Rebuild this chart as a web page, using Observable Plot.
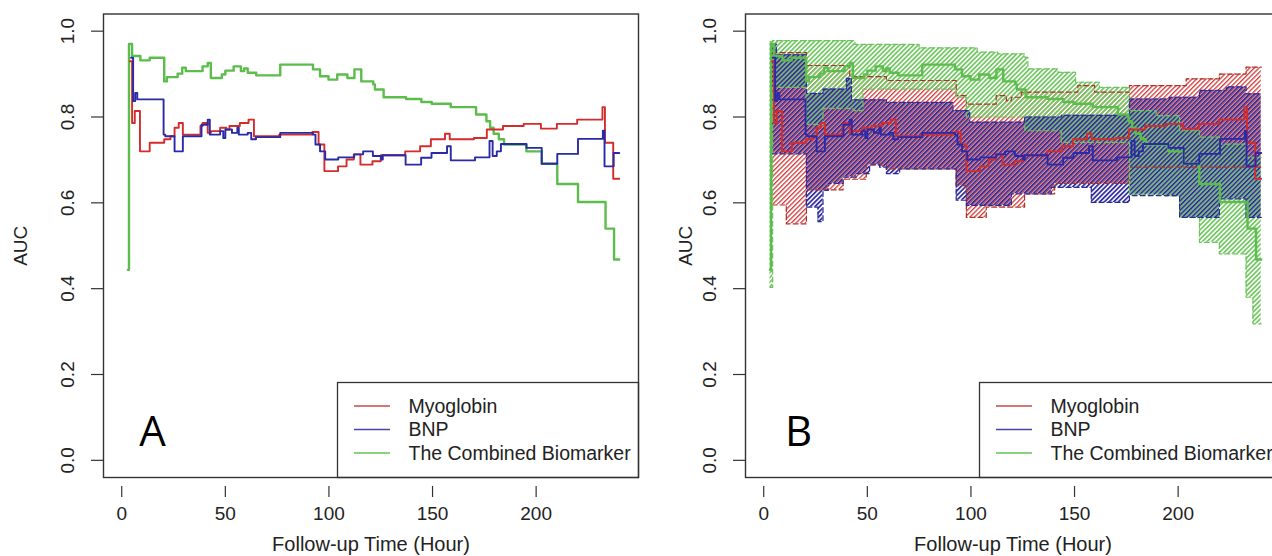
<!DOCTYPE html>
<html>
<head>
<meta charset="utf-8">
<script src="https://cdn.jsdelivr.net/npm/d3@7"></script>
<script src="https://cdn.jsdelivr.net/npm/@observablehq/plot@0.6"></script>
<style>
html, body { margin: 0; padding: 0; background: #fff; overflow: hidden; }
#wrap { position: relative; width: 1290px; height: 556px; }
#wrap svg { position: absolute; top: 0; max-width: none !important; background: transparent !important; }
</style>
</head>
<body>
<div id="wrap"></div>
<script>
// ---------- tick labels / categories ----------
const xTicks = [0, 50, 100, 150, 200];
const yTicks = [0, 0.2, 0.4, 0.6, 0.8, 1.0];
const seriesNames = ["Myoglobin", "BNP", "The Combined Biomarker"];
const xTitle = "Follow-up Time (Hour)";
const yTitle = "AUC";

// ---------- AUC curves (step functions) ----------
const myoHours = [4.0, 5.0, 6.3, 8.8, 13.5, 20.5, 23.5, 25.5, 27.5, 29.5, 38.0, 39.0, 41.5, 43.0, 47.5, 50.5, 52.0, 57.0, 61.2, 63.8, 76.0, 92.0, 95.0, 97.8, 104.4, 108.5, 112.0, 115.2, 121.0, 125.0, 136.8, 144.0, 149.2, 156.0, 158.3, 170.0, 176.2, 184.0, 194.0, 202.3, 210.0, 219.8, 232.0, 233.2, 237.2, 240.1];
const myoAUC   = [0.930, 0.786, 0.814, 0.720, 0.740, 0.748, 0.755, 0.775, 0.786, 0.759, 0.779, 0.786, 0.763, 0.767, 0.775, 0.771, 0.779, 0.786, 0.794, 0.755, 0.759, 0.765, 0.736, 0.674, 0.685, 0.701, 0.713, 0.689, 0.697, 0.711, 0.720, 0.732, 0.748, 0.761, 0.748, 0.751, 0.771, 0.779, 0.784, 0.773, 0.784, 0.794, 0.823, 0.740, 0.656, 0.656];

const bnpHours = [4.5, 5.5, 6.5, 7.5, 20.2, 21.0, 25.5, 29.5, 38.5, 41.5, 42.5, 47.5, 49.0, 50.0, 53.2, 55.8, 56.5, 60.8, 62.5, 64.8, 76.5, 92.3, 93.5, 95.7, 98.2, 104.5, 112.2, 116.5, 121.2, 125.2, 126.0, 137.0, 144.5, 149.5, 157.0, 158.8, 170.5, 177.5, 179.0, 181.0, 183.0, 195.3, 202.7, 210.2, 220.2, 232.2, 233.0, 237.4, 240.1];
const bnpAUC   = [0.938, 0.837, 0.856, 0.841, 0.759, 0.755, 0.720, 0.755, 0.782, 0.794, 0.759, 0.767, 0.751, 0.771, 0.763, 0.775, 0.759, 0.763, 0.748, 0.753, 0.763, 0.759, 0.736, 0.720, 0.701, 0.706, 0.713, 0.720, 0.709, 0.701, 0.711, 0.689, 0.705, 0.716, 0.732, 0.699, 0.706, 0.744, 0.709, 0.720, 0.737, 0.728, 0.691, 0.714, 0.749, 0.768, 0.685, 0.716, 0.716];

const combHours = [3.0, 3.5, 5.0, 9.0, 13.5, 20.5, 21.8, 27.0, 29.2, 30.9, 39.0, 41.5, 43.0, 48.3, 50.0, 54.0, 57.5, 59.1, 60.8, 64.9, 76.5, 92.3, 95.7, 99.8, 104.0, 108.9, 112.3, 115.6, 121.4, 122.2, 126.4, 137.2, 144.6, 149.6, 158.8, 171.0, 176.0, 177.8, 179.5, 182.0, 184.5, 195.3, 202.7, 210.2, 220.2, 233.5, 237.6, 240.1];
const combAUC   = [0.444, 0.970, 0.942, 0.932, 0.938, 0.883, 0.893, 0.901, 0.915, 0.907, 0.918, 0.926, 0.891, 0.899, 0.908, 0.918, 0.907, 0.913, 0.903, 0.897, 0.922, 0.911, 0.895, 0.887, 0.899, 0.891, 0.911, 0.883, 0.876, 0.864, 0.846, 0.842, 0.835, 0.831, 0.823, 0.806, 0.790, 0.775, 0.761, 0.748, 0.736, 0.720, 0.691, 0.644, 0.602, 0.540, 0.468, 0.468];

// ---------- confidence bands (panel B) ----------
const myoCIHours = [4.0, 10.9, 20.6, 35.0, 38.3, 41.5, 49.5, 59.2, 92.9, 97.8, 107.4, 112.2, 117.1, 119.5, 124.3, 125.9, 140.4, 151.6, 159.7, 176.5, 203.9, 219.9, 232.8, 240.1];
const myoLower   = [0.595, 0.551, 0.630, 0.630, 0.655, 0.655, 0.688, 0.679, 0.640, 0.566, 0.590, 0.590, 0.590, 0.590, 0.590, 0.621, 0.645, 0.645, 0.645, 0.683, 0.683, 0.683, 0.683, 0.683];
const myoUpper   = [0.950, 0.950, 0.920, 0.920, 0.920, 0.894, 0.894, 0.885, 0.850, 0.830, 0.830, 0.850, 0.838, 0.846, 0.858, 0.858, 0.858, 0.873, 0.858, 0.873, 0.889, 0.900, 0.916, 0.916];

const bnpCIHours = [4.0, 6.1, 20.6, 26.2, 28.6, 31.1, 38.3, 39.9, 42.3, 44.7, 51.1, 55.9, 59.2, 65.6, 91.3, 92.9, 97.8, 99.4, 119.5, 125.9, 138.8, 143.6, 158.1, 176.5, 195.8, 200.7, 210.3, 219.9, 223.2, 232.8, 240.1];
const bnpLower   = [0.714, 0.714, 0.590, 0.556, 0.629, 0.645, 0.660, 0.660, 0.660, 0.668, 0.690, 0.683, 0.668, 0.679, 0.679, 0.606, 0.594, 0.594, 0.621, 0.621, 0.636, 0.636, 0.601, 0.617, 0.617, 0.566, 0.566, 0.609, 0.609, 0.566, 0.566];
const bnpUpper   = [0.970, 0.945, 0.855, 0.855, 0.865, 0.865, 0.865, 0.890, 0.840, 0.840, 0.840, 0.840, 0.834, 0.834, 0.815, 0.815, 0.815, 0.788, 0.788, 0.800, 0.800, 0.804, 0.804, 0.842, 0.846, 0.846, 0.862, 0.862, 0.870, 0.854, 0.854];

const combCIHours = [3.0, 4.3, 20.5, 28.6, 43.1, 44.0, 47.9, 75.0, 92.9, 97.8, 103.0, 113.0, 126.0, 127.5, 142.0, 143.6, 150.5, 162.0, 176.5, 189.4, 194.0, 200.7, 210.3, 219.9, 232.8, 236.1, 240.1];
const combLower   = [0.403, 0.869, 0.783, 0.820, 0.815, 0.815, 0.865, 0.865, 0.846, 0.800, 0.800, 0.800, 0.768, 0.768, 0.768, 0.741, 0.741, 0.741, 0.620, 0.620, 0.616, 0.566, 0.508, 0.481, 0.380, 0.318, 0.318];
const combUpper   = [0.975, 0.978, 0.978, 0.978, 0.978, 0.969, 0.969, 0.961, 0.961, 0.961, 0.951, 0.947, 0.939, 0.912, 0.904, 0.904, 0.881, 0.869, 0.815, 0.803, 0.803, 0.768, 0.753, 0.737, 0.706, 0.706, 0.706];

// ---------- styling ----------
const lineColors   = {myo: "#d42b2b", bnp: "#2a2aa8", comb: "#5cbd4c"};
const legendColors = ["#c44a4a", "#4444aa", "#66c25a"];
const hatchColors  = {myo: "#d23c3c", bnp: "#34309e", comb: "#74c865"};
const dashColors   = {myo: "#b33228", bnp: "#2a2a9c", comb: "#6cc45c"};
const FONT = "Liberation Sans, Arial, Helvetica, sans-serif";
const H = 556, MT = 13.5, MB = 79, FRAME_W = 535;
const X_DOMAIN = [-8.8, 249.4];
const Y_DOMAIN = [-0.04, 1.04];
const HATCH_PERIOD = 3.3;

const pts = (h, v) => h.map((x, i) => ({x, y: v[i]}));
const band = (h, lo, hi) => h.map((x, i) => ({x, lo: lo[i], hi: hi[i]}));

const curves = [
  {key: "comb", rows: pts(combHours, combAUC), w: 2.4},
  {key: "myo",  rows: pts(myoHours, myoAUC),   w: 1.9},
  {key: "bnp",  rows: pts(bnpHours, bnpAUC),   w: 1.9}
];
const bands = [
  {key: "myo",  rows: band(myoCIHours, myoLower, myoUpper)},
  {key: "comb", rows: band(combCIHours, combLower, combUpper)},
  {key: "bnp",  rows: band(bnpCIHours, bnpLower, bnpUpper)}
];
const hatchOffset = {myo: 0, comb: 0, bnp: HATCH_PERIOD / 2};
const hatchWidth  = {myo: 1.3, comb: 1.75, bnp: 1.8};

const LEG = {boxInsetLeft: 234, boxTop: 382, lineX1: 251, lineX2: 287, textDx: 305, rowDy: [-71, -47.5, -24]};

function hatchDefs(idp) {
  return () => {
    const defs = d3.create("svg:defs");
    for (const key of ["myo", "comb", "bnp"]) {
      const p = defs.append("pattern")
        .attr("id", idp + key)
        .attr("patternUnits", "userSpaceOnUse")
        .attr("width", HATCH_PERIOD).attr("height", HATCH_PERIOD)
        .attr("patternTransform", "rotate(45)");
      const x0 = hatchOffset[key], w = hatchWidth[key];
      const first = Math.min(w, HATCH_PERIOD - x0);
      p.append("rect").attr("x", x0).attr("y", 0).attr("width", first).attr("height", HATCH_PERIOD).attr("fill", hatchColors[key]);
      if (first < w) {
        p.append("rect").attr("x", 0).attr("y", 0).attr("width", w - first).attr("height", HATCH_PERIOD).attr("fill", hatchColors[key]);
      }
    }
    return defs.node();
  };
}

function legendSwatches() {
  return (index, scales, values, dims) => {
    const g = d3.create("svg:g");
    const x0 = dims.marginLeft, y0 = dims.height - dims.marginBottom;
    seriesNames.forEach((n, i) => {
      g.append("line")
        .attr("x1", x0 + LEG.lineX1).attr("x2", x0 + LEG.lineX2)
        .attr("y1", y0 + LEG.rowDy[i]).attr("y2", y0 + LEG.rowDy[i])
        .attr("stroke", legendColors[i]).attr("stroke-width", 1.6);
    });
    return g.node();
  };
}

function panel({letter, withBands, width, marginLeft, marginRight, yTitleDx, idp}) {
  const frameH = H - MT - MB;
  const marks = [];
  if (withBands) {
    marks.push(hatchDefs(idp));
    for (const b of bands) {
      marks.push(Plot.areaY(b.rows, {x: "x", y1: "lo", y2: "hi", curve: "step-after", fill: `url(#${idp}${b.key})`}));
    }
    for (const b of bands) {
      for (const bound of ["lo", "hi"]) {
        marks.push(Plot.line(b.rows, {x: "x", y: bound, curve: "step-after", stroke: dashColors[b.key], strokeWidth: 1.2, strokeDasharray: "5,3"}));
      }
    }
  }
  for (const c of curves) {
    marks.push(Plot.line(c.rows, {x: "x", y: "y", curve: "step-after", stroke: lineColors[c.key], strokeWidth: c.w}));
  }
  // axes: ticks
  marks.push(Plot.tickX(xTicks, {x: d => d, insetTop: frameH + 9, insetBottom: -20, stroke: "#333", strokeWidth: 1.2}));
  marks.push(Plot.tickY(yTicks, {y: d => d, insetLeft: -12, insetRight: FRAME_W, stroke: "#333", strokeWidth: 1.2}));
  // axes: labels
  marks.push(Plot.text(xTicks, {x: d => d, text: d => String(d), frameAnchor: "bottom", dy: 36, lineAnchor: "middle", fontSize: 19, fontFamily: FONT, fill: "#222"}));
  marks.push(Plot.text(yTicks, {y: d => d, text: d => d.toFixed(1), frameAnchor: "left", dx: -36, rotate: -90, textAnchor: "middle", lineAnchor: "middle", fontSize: 19, fontFamily: FONT, fill: "#222"}));
  marks.push(Plot.text([xTitle], {text: d => d, frameAnchor: "bottom", dy: 67, lineAnchor: "middle", fontSize: 20, fontFamily: FONT, fill: "#222"}));
  marks.push(Plot.text([yTitle], {text: d => d, frameAnchor: "left", dx: yTitleDx, rotate: -90, textAnchor: "middle", lineAnchor: "middle", fontSize: 19, fontFamily: FONT, fill: "#222"}));
  // panel letter
  marks.push(Plot.text([letter], {text: d => d, frameAnchor: "bottom-left", dx: letter === "A" ? 49 : 53, dy: -45, lineAnchor: "middle", textAnchor: "middle", fontSize: 42, fontFamily: "Open Sans, Noto Sans, sans-serif", fill: "#000"}));
  // legend
  marks.push(Plot.frame({insetLeft: LEG.boxInsetLeft, insetTop: LEG.boxTop - MT, fill: "white", stroke: "#333", strokeWidth: 1.3}));
  marks.push(legendSwatches());
  seriesNames.forEach((n, i) => {
    marks.push(Plot.text([n], {text: d => d, frameAnchor: "bottom-left", dx: LEG.textDx, dy: LEG.rowDy[i], textAnchor: "start", lineAnchor: "middle", fontSize: 19.5, fontFamily: FONT, fill: "#222"}));
  });
  marks.push(Plot.frame({stroke: "#333", strokeWidth: 1.4}));

  return Plot.plot({
    width, height: H,
    marginLeft, marginRight, marginTop: MT, marginBottom: MB,
    x: {domain: X_DOMAIN, axis: null},
    y: {domain: Y_DOMAIN, axis: null},
    marks
  });
}

const wrap = document.getElementById("wrap");
const svgA = panel({letter: "A", withBands: false, width: 640, marginLeft: 103, marginRight: 2, yTitleDx: -83, idp: "a-"});
svgA.style.left = "0px";
wrap.appendChild(svgA);
const svgB = panel({letter: "B", withBands: true, width: 645, marginLeft: 105, marginRight: 5, yTitleDx: -60, idp: "b-"});
svgB.style.left = "640px";
wrap.appendChild(svgB);
</script>
</body>
</html>
